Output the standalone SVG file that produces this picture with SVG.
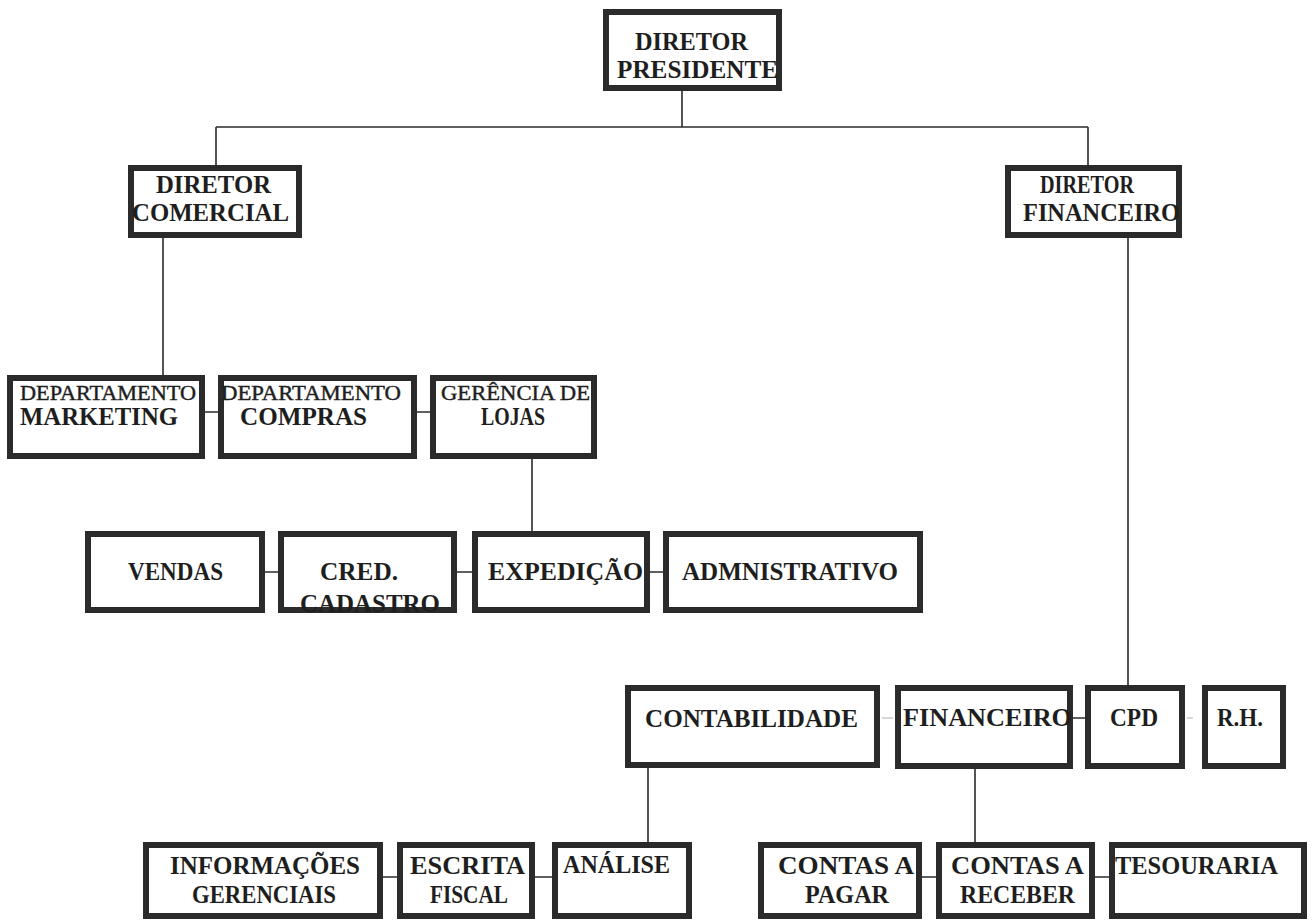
<svg xmlns="http://www.w3.org/2000/svg" width="1312" height="922" viewBox="0 0 1312 922">
<style>
.box{fill:#fff;stroke:#2b2b2b;stroke-width:6}
.t{font-family:"Liberation Serif","Times New Roman",serif;font-weight:bold;font-size:26px;fill:#1e1e1e;text-anchor:start}
.s{font-family:"Liberation Serif","Times New Roman",serif;font-weight:normal;font-size:20px;fill:#1e1e1e;stroke:#1e1e1e;stroke-width:0.4}
.c{stroke:#2b2b2b;stroke-width:1.6;fill:none}
.f{stroke:#b0b0b0;stroke-width:1.2;fill:none}
</style>
<rect width="1312" height="922" fill="#fff"/>
<g id="connectors">
<path class="c" d="M682 91V127M216 127H1088M216 127V165M1088 127V165"/>
<path class="c" d="M163 238V375M1128 238V685"/>
<path class="c" d="M205 412H218M417 412H430M532 459V531"/>
<path class="c" d="M265 572H278M457 572H472M650 572H663"/>
<path class="c" d="M1073 718H1085M648 768V842M975 769V842"/>
<path class="c" d="M383 877H397M535 877H552M922 877H936M1095 877H1109"/>
<path class="f" d="M882 718H893M1187 718H1193"/>
</g>
<g id="presidente"><rect class="box" x="606" y="12" width="173" height="76"/>
<text class="t" x="635" y="50" textLength="113" lengthAdjust="spacingAndGlyphs">DIRETOR</text>
<text class="t" x="617" y="78" textLength="161" lengthAdjust="spacingAndGlyphs">PRESIDENTE</text></g>
<g id="comercial"><rect class="box" x="131" y="168" width="168" height="67"/>
<text class="t" x="156" y="193" textLength="115" lengthAdjust="spacingAndGlyphs">DIRETOR</text>
<text class="t" x="132" y="221" textLength="157" lengthAdjust="spacingAndGlyphs">COMERCIAL</text></g>
<g id="financeiro-dir"><rect class="box" x="1008" y="168" width="171" height="67"/>
<text class="t" x="1040" y="193" textLength="94" lengthAdjust="spacingAndGlyphs">DIRETOR</text>
<text class="t" x="1023" y="221" textLength="157" lengthAdjust="spacingAndGlyphs">FINANCEIRO</text></g>
<g id="marketing"><rect class="box" x="10" y="378" width="192" height="78"/>
<text class="s" x="20" y="400" textLength="176" lengthAdjust="spacingAndGlyphs">DEPARTAMENTO</text>
<text class="t" x="20" y="425" textLength="158" lengthAdjust="spacingAndGlyphs">MARKETING</text></g>
<g id="compras"><rect class="box" x="221" y="378" width="193" height="78"/>
<text class="s" x="221" y="400" textLength="180" lengthAdjust="spacingAndGlyphs">DEPARTAMENTO</text>
<text class="t" x="240" y="425" textLength="127" lengthAdjust="spacingAndGlyphs">COMPRAS</text></g>
<g id="lojas"><rect class="box" x="433" y="378" width="161" height="78"/>
<text class="s" x="441" y="400" textLength="149" lengthAdjust="spacingAndGlyphs">GERÊNCIA DE</text>
<text class="t" x="481" y="425" textLength="64" lengthAdjust="spacingAndGlyphs">LOJAS</text></g>
<g id="vendas"><rect class="box" x="88" y="534" width="174" height="76"/>
<text class="t" x="128" y="580" textLength="95" lengthAdjust="spacingAndGlyphs">VENDAS</text></g>
<g id="cred"><rect class="box" x="281" y="534" width="173" height="76"/>
<text class="t" x="320" y="580" textLength="78" lengthAdjust="spacingAndGlyphs">CRED.</text>
<text class="t" x="300" y="612" textLength="140" lengthAdjust="spacingAndGlyphs">CADASTRO</text></g>
<g id="expedicao"><rect class="box" x="475" y="534" width="172" height="76"/>
<text class="t" x="488" y="580" textLength="155" lengthAdjust="spacingAndGlyphs">EXPEDIÇÃO</text></g>
<g id="admnistrativo"><rect class="box" x="666" y="534" width="254" height="76"/>
<text class="t" x="682" y="580" textLength="216" lengthAdjust="spacingAndGlyphs">ADMNISTRATIVO</text></g>
<g id="contabilidade"><rect class="box" x="628" y="688" width="249" height="77"/>
<text class="t" x="645" y="727" textLength="213" lengthAdjust="spacingAndGlyphs">CONTABILIDADE</text></g>
<g id="financeiro"><rect class="box" x="898" y="688" width="172" height="78"/>
<text class="t" x="903" y="726" textLength="169" lengthAdjust="spacingAndGlyphs">FINANCEIRO</text></g>
<g id="cpd"><rect class="box" x="1088" y="688" width="94" height="78"/>
<text class="t" x="1110" y="726" textLength="48" lengthAdjust="spacingAndGlyphs">CPD</text></g>
<g id="rh"><rect class="box" x="1205" y="688" width="78" height="78"/>
<text class="t" x="1217" y="726" textLength="46" lengthAdjust="spacingAndGlyphs">R.H.</text></g>
<g id="informacoes"><rect class="box" x="146" y="845" width="234" height="71"/>
<text class="t" x="170" y="874" textLength="190" lengthAdjust="spacingAndGlyphs">INFORMAÇÕES</text>
<text class="t" x="192" y="903" textLength="144" lengthAdjust="spacingAndGlyphs">GERENCIAIS</text></g>
<g id="escrita"><rect class="box" x="400" y="845" width="132" height="71"/>
<text class="t" x="410" y="874" textLength="115" lengthAdjust="spacingAndGlyphs">ESCRITA</text>
<text class="t" x="430" y="903" textLength="78" lengthAdjust="spacingAndGlyphs">FISCAL</text></g>
<g id="analise"><rect class="box" x="555" y="845" width="134" height="71"/>
<text class="t" x="563" y="873" textLength="107" lengthAdjust="spacingAndGlyphs">ANÁLISE</text></g>
<g id="pagar"><rect class="box" x="761" y="845" width="158" height="71"/>
<text class="t" x="778" y="874" textLength="136" lengthAdjust="spacingAndGlyphs">CONTAS A</text>
<text class="t" x="805" y="903" textLength="84" lengthAdjust="spacingAndGlyphs">PAGAR</text></g>
<g id="receber"><rect class="box" x="939" y="845" width="153" height="71"/>
<text class="t" x="951" y="874" textLength="133" lengthAdjust="spacingAndGlyphs">CONTAS A</text>
<text class="t" x="960" y="903" textLength="115" lengthAdjust="spacingAndGlyphs">RECEBER</text></g>
<g id="tesouraria"><rect class="box" x="1112" y="845" width="192" height="71"/>
<text class="t" x="1115" y="874" textLength="163" lengthAdjust="spacingAndGlyphs">TESOURARIA</text></g>
</svg>
